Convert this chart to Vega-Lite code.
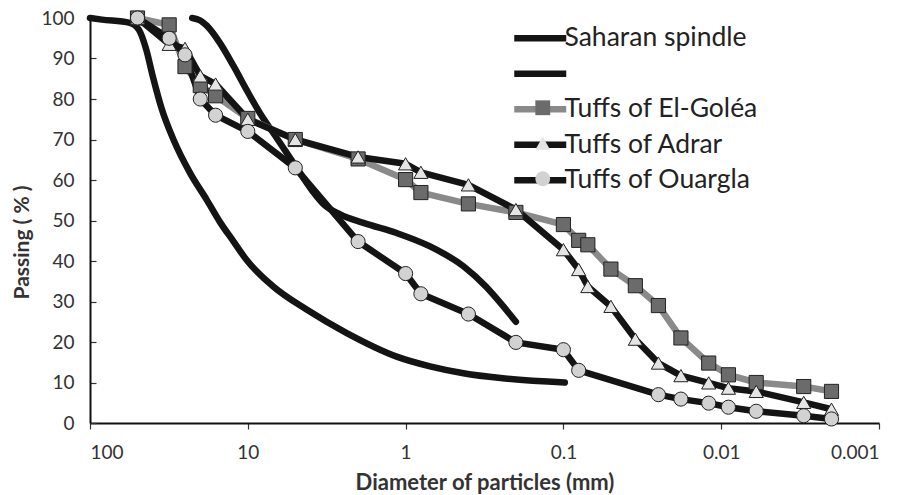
{
  "$schema": "https://vega.github.io/schema/vega-lite/v6.json",
  "width": 789,
  "height": 405,
  "autosize": "none",
  "padding": {"left": 90, "top": 18, "right": 34, "bottom": 72},
  "background": "white",
  "config": {
    "view": {"stroke": null},
    "font": "Lato",
    "axis": {"grid": false, "domainColor": "#111", "domainWidth": 2, "tickColor": "#333", "tickWidth": 1.2, "labelColor": "#333", "labelFont": "Lato", "labelFontSize": 19, "titleFont": "Lato", "titleFontWeight": "bold", "titleColor": "#333"}
  },
  "datasets": {
    "curves": [
      {"series": "Saharan spindle (lower limit)", "d": 100, "p": 100},
      {"series": "Saharan spindle (lower limit)", "d": 84, "p": 99.6},
      {"series": "Saharan spindle (lower limit)", "d": 56, "p": 98.8},
      {"series": "Saharan spindle (lower limit)", "d": 49, "p": 97.1},
      {"series": "Saharan spindle (lower limit)", "d": 44, "p": 92.2},
      {"series": "Saharan spindle (lower limit)", "d": 40, "p": 85.6},
      {"series": "Saharan spindle (lower limit)", "d": 35, "p": 77.4},
      {"series": "Saharan spindle (lower limit)", "d": 29.6, "p": 70},
      {"series": "Saharan spindle (lower limit)", "d": 23.2, "p": 61.7},
      {"series": "Saharan spindle (lower limit)", "d": 18.2, "p": 55.1},
      {"series": "Saharan spindle (lower limit)", "d": 15, "p": 49.6},
      {"series": "Saharan spindle (lower limit)", "d": 12.3, "p": 44.8},
      {"series": "Saharan spindle (lower limit)", "d": 10.2, "p": 40.3},
      {"series": "Saharan spindle (lower limit)", "d": 6.9, "p": 33.7},
      {"series": "Saharan spindle (lower limit)", "d": 4.24, "p": 28},
      {"series": "Saharan spindle (lower limit)", "d": 2.36, "p": 22.2},
      {"series": "Saharan spindle (lower limit)", "d": 1.14, "p": 16.4},
      {"series": "Saharan spindle (lower limit)", "d": 0.7, "p": 14},
      {"series": "Saharan spindle (lower limit)", "d": 0.43, "p": 12.3},
      {"series": "Saharan spindle (lower limit)", "d": 0.25, "p": 11.1},
      {"series": "Saharan spindle (lower limit)", "d": 0.098, "p": 10},
      {"series": "Saharan spindle (upper limit)", "d": 22.5, "p": 100},
      {"series": "Saharan spindle (upper limit)", "d": 20, "p": 99.4},
      {"series": "Saharan spindle (upper limit)", "d": 18.2, "p": 98.1},
      {"series": "Saharan spindle (upper limit)", "d": 15, "p": 93.8},
      {"series": "Saharan spindle (upper limit)", "d": 12.3, "p": 88.1},
      {"series": "Saharan spindle (upper limit)", "d": 10.2, "p": 82.3},
      {"series": "Saharan spindle (upper limit)", "d": 8.37, "p": 76.5},
      {"series": "Saharan spindle (upper limit)", "d": 6.89, "p": 71.6},
      {"series": "Saharan spindle (upper limit)", "d": 5.67, "p": 66.7},
      {"series": "Saharan spindle (upper limit)", "d": 4.66, "p": 61.7},
      {"series": "Saharan spindle (upper limit)", "d": 3.84, "p": 57},
      {"series": "Saharan spindle (upper limit)", "d": 3.3, "p": 54},
      {"series": "Saharan spindle (upper limit)", "d": 2.6, "p": 51.5},
      {"series": "Saharan spindle (upper limit)", "d": 1.85, "p": 49.4},
      {"series": "Saharan spindle (upper limit)", "d": 1.14, "p": 46.9},
      {"series": "Saharan spindle (upper limit)", "d": 0.7, "p": 43.6},
      {"series": "Saharan spindle (upper limit)", "d": 0.43, "p": 38.7},
      {"series": "Saharan spindle (upper limit)", "d": 0.31, "p": 33.7},
      {"series": "Saharan spindle (upper limit)", "d": 0.25, "p": 29.6},
      {"series": "Saharan spindle (upper limit)", "d": 0.2, "p": 25}
    ],
    "tuffs": [
      {"series": "Tuffs of  El-Goléa", "sample": "Tuffs of  El-Goléa", "d": 50, "p": 100},
      {"series": "Tuffs of  El-Goléa", "sample": "Tuffs of  El-Goléa", "d": 31.5, "p": 98.3},
      {"series": "Tuffs of  El-Goléa", "sample": "Tuffs of  El-Goléa", "d": 25, "p": 88},
      {"series": "Tuffs of  El-Goléa", "sample": "Tuffs of  El-Goléa", "d": 20, "p": 83.3},
      {"series": "Tuffs of  El-Goléa", "sample": "Tuffs of  El-Goléa", "d": 16, "p": 80.8},
      {"series": "Tuffs of  El-Goléa", "sample": "Tuffs of  El-Goléa", "d": 10, "p": 75.2},
      {"series": "Tuffs of  El-Goléa", "sample": "Tuffs of  El-Goléa", "d": 5, "p": 70},
      {"series": "Tuffs of  El-Goléa", "sample": "Tuffs of  El-Goléa", "d": 2, "p": 65.2},
      {"series": "Tuffs of  El-Goléa", "sample": "Tuffs of  El-Goléa", "d": 1, "p": 60.1},
      {"series": "Tuffs of  El-Goléa", "sample": "Tuffs of  El-Goléa", "d": 0.8, "p": 56.9},
      {"series": "Tuffs of  El-Goléa", "sample": "Tuffs of  El-Goléa", "d": 0.4, "p": 54.1},
      {"series": "Tuffs of  El-Goléa", "sample": "Tuffs of  El-Goléa", "d": 0.2, "p": 52},
      {"series": "Tuffs of  El-Goléa", "sample": "Tuffs of  El-Goléa", "d": 0.1, "p": 49},
      {"series": "Tuffs of  El-Goléa", "sample": "Tuffs of  El-Goléa", "d": 0.08, "p": 45.1},
      {"series": "Tuffs of  El-Goléa", "sample": "Tuffs of  El-Goléa", "d": 0.07, "p": 44},
      {"series": "Tuffs of  El-Goléa", "sample": "Tuffs of  El-Goléa", "d": 0.05, "p": 38},
      {"series": "Tuffs of  El-Goléa", "sample": "Tuffs of  El-Goléa", "d": 0.035, "p": 33.9},
      {"series": "Tuffs of  El-Goléa", "sample": "Tuffs of  El-Goléa", "d": 0.025, "p": 29},
      {"series": "Tuffs of  El-Goléa", "sample": "Tuffs of  El-Goléa", "d": 0.018, "p": 21},
      {"series": "Tuffs of  El-Goléa", "sample": "Tuffs of  El-Goléa", "d": 0.012, "p": 14.8},
      {"series": "Tuffs of  El-Goléa", "sample": "Tuffs of  El-Goléa", "d": 0.009, "p": 11.9},
      {"series": "Tuffs of  El-Goléa", "sample": "Tuffs of  El-Goléa", "d": 0.006, "p": 10},
      {"series": "Tuffs of  El-Goléa", "sample": "Tuffs of  El-Goléa", "d": 0.003, "p": 9},
      {"series": "Tuffs of  El-Goléa", "sample": "Tuffs of  El-Goléa", "d": 0.002, "p": 7.8},
      {"series": "Tuffs of Adrar", "sample": "Tuffs of Adrar", "d": 50, "p": 100},
      {"series": "Tuffs of Adrar", "sample": "Tuffs of Adrar", "d": 31.5, "p": 93.5},
      {"series": "Tuffs of Adrar", "sample": "Tuffs of Adrar", "d": 25, "p": 92.5},
      {"series": "Tuffs of Adrar", "sample": "Tuffs of Adrar", "d": 20, "p": 85.7},
      {"series": "Tuffs of Adrar", "sample": "Tuffs of Adrar", "d": 16, "p": 83.7},
      {"series": "Tuffs of Adrar", "sample": "Tuffs of Adrar", "d": 10, "p": 75},
      {"series": "Tuffs of Adrar", "sample": "Tuffs of Adrar", "d": 5, "p": 70},
      {"series": "Tuffs of Adrar", "sample": "Tuffs of Adrar", "d": 2, "p": 65.7},
      {"series": "Tuffs of Adrar", "sample": "Tuffs of Adrar", "d": 1, "p": 64},
      {"series": "Tuffs of Adrar", "sample": "Tuffs of Adrar", "d": 0.8, "p": 61.9},
      {"series": "Tuffs of Adrar", "sample": "Tuffs of Adrar", "d": 0.4, "p": 58.8},
      {"series": "Tuffs of Adrar", "sample": "Tuffs of Adrar", "d": 0.2, "p": 52.7},
      {"series": "Tuffs of Adrar", "sample": "Tuffs of Adrar", "d": 0.1, "p": 42.8},
      {"series": "Tuffs of Adrar", "sample": "Tuffs of Adrar", "d": 0.08, "p": 37.9},
      {"series": "Tuffs of Adrar", "sample": "Tuffs of Adrar", "d": 0.07, "p": 33.7},
      {"series": "Tuffs of Adrar", "sample": "Tuffs of Adrar", "d": 0.05, "p": 28.8},
      {"series": "Tuffs of Adrar", "sample": "Tuffs of Adrar", "d": 0.035, "p": 20.7},
      {"series": "Tuffs of Adrar", "sample": "Tuffs of Adrar", "d": 0.025, "p": 14.8},
      {"series": "Tuffs of Adrar", "sample": "Tuffs of Adrar", "d": 0.018, "p": 11.7},
      {"series": "Tuffs of Adrar", "sample": "Tuffs of Adrar", "d": 0.012, "p": 9.9},
      {"series": "Tuffs of Adrar", "sample": "Tuffs of Adrar", "d": 0.009, "p": 8.6},
      {"series": "Tuffs of Adrar", "sample": "Tuffs of Adrar", "d": 0.006, "p": 7.8},
      {"series": "Tuffs of Adrar", "sample": "Tuffs of Adrar", "d": 0.003, "p": 5.1},
      {"series": "Tuffs of Adrar", "sample": "Tuffs of Adrar", "d": 0.002, "p": 3.4},
      {"series": "Tuffs of Ouargla", "sample": "Tuffs of Ouargla", "d": 50, "p": 100},
      {"series": "Tuffs of Ouargla", "sample": "Tuffs of Ouargla", "d": 31.5, "p": 95},
      {"series": "Tuffs of Ouargla", "sample": "Tuffs of Ouargla", "d": 25, "p": 90.9},
      {"series": "Tuffs of Ouargla", "sample": "Tuffs of Ouargla", "d": 20, "p": 80},
      {"series": "Tuffs of Ouargla", "sample": "Tuffs of Ouargla", "d": 16, "p": 76},
      {"series": "Tuffs of Ouargla", "sample": "Tuffs of Ouargla", "d": 10, "p": 72},
      {"series": "Tuffs of Ouargla", "sample": "Tuffs of Ouargla", "d": 5, "p": 63},
      {"series": "Tuffs of Ouargla", "sample": "Tuffs of Ouargla", "d": 2, "p": 44.8},
      {"series": "Tuffs of Ouargla", "sample": "Tuffs of Ouargla", "d": 1, "p": 36.9},
      {"series": "Tuffs of Ouargla", "sample": "Tuffs of Ouargla", "d": 0.8, "p": 31.9},
      {"series": "Tuffs of Ouargla", "sample": "Tuffs of Ouargla", "d": 0.4, "p": 26.9},
      {"series": "Tuffs of Ouargla", "sample": "Tuffs of Ouargla", "d": 0.2, "p": 19.9},
      {"series": "Tuffs of Ouargla", "sample": "Tuffs of Ouargla", "d": 0.1, "p": 18.1},
      {"series": "Tuffs of Ouargla", "sample": "Tuffs of Ouargla", "d": 0.08, "p": 13},
      {"series": "Tuffs of Ouargla", "sample": "Tuffs of Ouargla", "d": 0.025, "p": 7},
      {"series": "Tuffs of Ouargla", "sample": "Tuffs of Ouargla", "d": 0.018, "p": 5.9},
      {"series": "Tuffs of Ouargla", "sample": "Tuffs of Ouargla", "d": 0.012, "p": 4.9},
      {"series": "Tuffs of Ouargla", "sample": "Tuffs of Ouargla", "d": 0.009, "p": 3.9},
      {"series": "Tuffs of Ouargla", "sample": "Tuffs of Ouargla", "d": 0.006, "p": 2.9},
      {"series": "Tuffs of Ouargla", "sample": "Tuffs of Ouargla", "d": 0.003, "p": 1.8},
      {"series": "Tuffs of Ouargla", "sample": "Tuffs of Ouargla", "d": 0.002, "p": 1}
    ]
  },
  "encoding": {
    "x": {
      "field": "d", "type": "quantitative",
      "scale": {"type": "log", "domain": [0.001, 100], "reverse": true, "nice": false},
      "axis": {"values": [100, 10, 1, 0.1, 0.01, 0.001], "format": "~g", "tickSize": 6, "labelPadding": 14, "title": "Diameter of particles (mm)", "titleFontSize": 22, "titlePadding": 10}
    },
    "y": {
      "field": "p", "type": "quantitative",
      "scale": {"domain": [0, 100], "nice": false},
      "axis": {"values": [0, 10, 20, 30, 40, 50, 60, 70, 80, 90, 100], "tickSize": -6, "labelPadding": 22, "title": "Passing ( % )", "titleFontSize": 21, "titleX": -58, "titleY": 224}
    }
  },
  "layer": [
    {
      "data": {"name": "curves"},
      "mark": {"type": "line", "interpolate": "monotone", "strokeCap": "round", "strokeJoin": "round"},
      "encoding": {
        "color": {
          "field": "series", "type": "nominal",
          "scale": {"domain": ["Saharan spindle (lower limit)", "Saharan spindle (upper limit)", "Tuffs of  El-Goléa", "Tuffs of Adrar", "Tuffs of Ouargla"], "range": ["#141414", "#141414", "#8a8a8a", "#141414", "#141414"]},
          "legend": {
            "orient": "none", "legendX": 437, "legendY": 7, "title": null, "zindex": 0,
            "symbolType": "M-4,0H4", "symbolSize": 169,
            "labelFont": "Lato", "labelFontSize": 26.5, "labelColor": "#222", "labelOffset": 11, "labelLimit": 400, "rowPadding": 8.5,
            "labelExpr": "datum.label == 'Saharan spindle (upper limit)' ? '' : datum.label == 'Saharan spindle (lower limit)' ? 'Saharan spindle' : datum.label"
          }
        },
        "strokeWidth": {
          "field": "series", "type": "nominal",
          "scale": {"domain": ["Saharan spindle (lower limit)", "Saharan spindle (upper limit)", "Tuffs of  El-Goléa", "Tuffs of Adrar", "Tuffs of Ouargla"], "range": [6.5, 6.5, 4, 3.5, 3.5]}
        }
      }
    },
    {
      "data": {"name": "tuffs"},
      "mark": {"type": "line", "strokeJoin": "round"},
      "encoding": {
        "color": {"field": "series", "type": "nominal"},
        "strokeWidth": {"field": "series", "type": "nominal"}
      }
    },
    {
      "data": {"name": "tuffs"},
      "mark": {"type": "point", "filled": true, "opacity": 1, "size": 200, "stroke": "#222", "strokeWidth": 1},
      "encoding": {
        "shape": {
          "field": "sample", "type": "nominal",
          "scale": {"domain": ["Tuffs of  El-Goléa", "Tuffs of Adrar", "Tuffs of Ouargla"], "range": ["square", "triangle-up", "circle"]},
          "legend": {
            "orient": "none", "legendX": 439.5, "legendY": 76.5, "title": null, "zindex": 1,
            "symbolSize": 220, "symbolStrokeColor": "#222", "symbolStrokeWidth": 1, "symbolOpacity": 1,
            "labelExpr": "''", "labelFontSize": 26.5, "rowPadding": 8.5
          }
        },
        "fill": {
          "field": "sample", "type": "nominal",
          "scale": {"domain": ["Tuffs of  El-Goléa", "Tuffs of Adrar", "Tuffs of Ouargla"], "range": ["#6b6b6b", "#e4e4e4", "#d2d2d2"]}
        }
      }
    }
  ]
}
